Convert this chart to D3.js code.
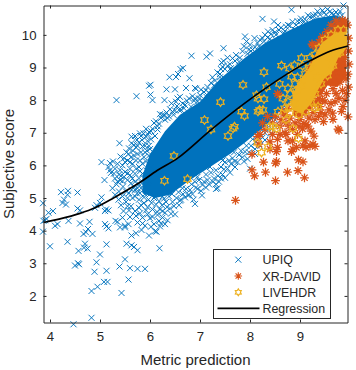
<!DOCTYPE html>
<html><head><meta charset="utf-8">
<script src="https://cdn.jsdelivr.net/npm/d3@7/dist/d3.min.js"></script>
<style>html,body{margin:0;padding:0;background:#fff}svg{display:block}text{font-family:"Liberation Sans",Arial,sans-serif;fill:#262626}</style>
</head><body><svg id="c" width="356" height="370"></svg>
<script>
const xTicks=[4,5,6,7,8,9], yTicks=[2,3,4,5,6,7,8,9,10];
const seriesNames=["UPIQ","XR-DAVID","LIVEHDR","Regression"];
// Individually read UPIQ markers
const upiq=[[5.33,8],[5.73,8.12],[5.98,8.44],[6.01,8.47],[6.01,8.17],[6.05,8],[6.29,8],[6.33,8.33],[6.39,8.7],[6.52,8.71],[6.5,8.33],[6.43,7.9],[6.2,7.57],[6.29,7.54],[6.55,8.05],[6.52,7.95],[6.45,7.65],[6.6,8.1],[6.66,8.98],[6.61,8.95],[6.56,8.8],[6.79,8.67],[6.72,8.37],[6.92,8.35],[6.9,8.37],[6.83,9.36],[7.13,9.33],[7.2,9.43],[7.47,9.59],[7.55,9.3],[7.47,9.2],[7.43,9.15],[7.22,8.53],[7.2,8.2],[7.13,8.1],[7.05,7.98],[6.95,7.95],[6.82,7.8],[6.7,7.85],[6.62,7.7],[7.3,8.4],[7.4,8.8],[7.5,8.95],[7.6,9.1],[7.65,9.28],[7.9,9.95],[7.93,9.8],[8.09,9.9],[7.88,9.65],[7.98,9.55],[8.25,10.49],[8.48,10.41],[8.56,10.3],[8.36,10.1],[8.3,10],[8.2,9.85],[8.05,9.55],[8.76,10.3],[8.83,10.77],[9.01,10.41],[9.05,10.35],[8.92,10.3],[8.68,10.05],[8.5,10.08],[9.2,10.55],[9.35,10.72],[9.45,10.75],[9.55,10.78],[9.63,10.65],[9.72,10.7],[9.87,10.9],[9.8,10.72],[9.27,10.6],
[5.92,7.12],[5.8,6.98],[5.7,6.9],[5.63,6.88],[5.63,6.68],[5.39,6.68],[5.03,6.1],[5.41,6.27],[5.57,6.35],[5.09,5.55],[5.2,6.07],[5.17,5.95],[5.2,5.85],[5.22,5.77],[5.3,5.6],[5.35,5.5],[5.28,5.75],[5.4,5.85],[5.45,6],[5.5,6.1],[5.55,6.15],[5.62,6.25],[5.66,6.45],[5.72,6.55],[5.78,6.7],[5.84,6.78],[5.9,6.6],[5.96,6.95],[5.5,5.8],[5.6,5.9],[5.65,6.05],[5.72,6.15],[5.75,6.35],[5.82,6.4],[5.88,6.25],[5.94,6.45],[5.7,5.75],[5.78,5.95],[5.85,6.05],[5.92,6.12],[5.98,6.6],[5.55,5.55],[5.62,5.45],[5.7,5.5],[5.78,5.6],[5.85,5.75],[5.93,5.85],[5.98,6.3],[5.46,5.35],[5.52,5.2],[5.63,5.25],[5.75,5.3],[5.84,5.45],[5.92,5.6],[5.98,5.7],[6.02,7.05],[6.08,7.3],[6.15,7.2],[6.22,7.45],[6.3,7.4],[6.38,7.5],[6.02,6.8],[6.1,6.9],[6,6.5],[6.03,6.2],[6.02,5.95],[6.06,5.75],[6,5.5],[5.9,5.35],[5.8,5.15],[5.7,5.05],[5.55,5],[5.38,5.2],[5.33,5.42],[5.45,5.05],
[5,4.85],[4.93,4.78],[5.03,5.02],[4.9,4.7],[5.12,4.65],[5.17,4.62],[5.1,4.6],[5.31,4.3],[5.35,4.27],[5.1,4.2],[5.17,4.07],[5.13,4.13],[5.47,4.6],[5.45,4.4],[5.4,4.1],[5.5,4.1],[5.57,4.2],[5.5,4.15],[5.63,3.85],[5.72,3.92],[5.83,4.02],[5.98,3.85],[6.13,3.97],[6.2,4.13],[5.62,4.75],[5.72,4.45],[5.8,4.53],[5.85,4.4],[5.95,4.5],[5.75,4.25],[5.9,4.15],[5.7,4.6],[6,4.38],[6.08,4.2],[6.18,4.3],[6.25,4.4],[5.65,5],[5.78,4.95],[5.88,4.85],[5.95,4.72],[6.05,4.65],[6.12,4.8],[6.2,4.65],[6.3,4.55],[6.4,4.68],[6.5,4.5],[6.32,4.88],[6.45,4.88],[6.1,5.05],[6.02,5.15],[6.58,4.78],[6.7,5.02],[6.87,4.95],[6.65,5.3],[6.8,5.25],[7.32,5.28],[7.35,5.3],[7.05,5.4],[7.28,5.6],[7.38,5.5],[7.45,5.72],[7.15,5.55],[6.9,5.5],[7.55,5.9],[7.62,6.05],[7.75,6.1],[7.85,6.25],[7.68,6.4],[7.98,6.4],[8.1,6.5],[8.2,6.6],[8.05,6.8],[8.18,7],[8.3,7],[8.4,7.3],[8.5,7.4],[8.62,7.6],[7.95,6.2],[7.7,5.95],[8,5.9],[7.45,6.15],[7.2,5.95],[6.95,5.65],[6.68,5.55],[6.55,5.4],[6.35,5.2],[6.25,5.05],
[4.36,5.22],[4.35,5.1],[4.22,5.18],[4.28,4.95],[4.25,4.85],[4.32,4.8],[4.55,5.17],[4.55,4.68],[4.6,4.62],[4.06,4.6],[3.97,4.55],[4.1,4.15],[4.15,4.2],[4.37,4.3],[4.6,4.22],[3.86,4.84],[3.86,3.97],[3.9,4.32],[3.93,4.36],[3.87,4.3],[4,3.52],[4.35,3.66],[4.57,3.38],[4.67,3.9],[4.7,3.6],[4.75,3.45],[4.68,3.48],[4.79,4.27],[4.76,4.05],[4.72,3.95],[4.85,3.9],[5,3.27],[4.93,3.03],[4.89,2.74],[5.13,2.77],[5.13,3.58],[4.5,2.93],[4.58,2.97],[4.56,3],[4.83,2.15],[4.95,2.28],[5.08,2.43],[5.15,2.43],[4.83,1.33],[4.47,1.13],[5.43,2.09],[5.57,2.5],[5.39,2.9],[5.5,3.12],[5.6,2.85],[5.75,2.83],[5.9,2.83],[5.53,3.6],[5.63,3.55],[5.68,3.5],[5.75,3.4],[6.19,3.46]];
// More UPIQ markers read across the dense band
const upiqBand=[[5.37,4.95],[5.42,4.78],[5.52,4.88],[5.58,4.62],[5.3,5.1],[5.25,5.3],[5.4,5.55],[5.48,5.65],[5.6,5.7],[5.68,5.33],[5.74,5.14],[5.82,5.3],[5.88,5.02],[5.93,5.22],[5.97,4.95],[6.03,4.85],[6.08,5],[6.14,4.58],[6.18,4.9],[6.24,4.78],[6.28,4.98],[6.34,4.72],[6.38,5.05],[6.44,5.12],[6.48,4.75],[6.53,5],[6.57,5.18],[6.62,4.95],[6.66,5.12],[6.72,5.28],[6.76,5.08],[6.83,5.42],[6.85,5.12],[6.92,5.32],[6.98,5.55],[7.02,5.22],[7.08,5.5],[7.12,5.72],[7.18,5.42],[7.22,5.78],[7.26,5.5],[7.32,5.85],[7.36,5.68],[7.42,5.95],[7.48,5.88],[7.5,6.1],[7.58,6.15],[7.65,6.22],[7.7,6.12],[7.78,6.32],[7.82,6.45],[7.9,6.42],[7.93,6.6],[8.02,6.6],[8.12,6.72],[8.15,6.9],[8.25,6.85],[8.35,7.15],[8.44,7.12],[8.55,7.5],[8.68,7.72],[8.75,7.9],
[5.3,5.9],[5.35,6.05],[5.26,6.12],[5.42,5.68],[5.48,6.22],[5.53,6.4],[5.58,6.52],[5.68,6.62],[5.74,6.78],[5.82,6.9],[5.87,6.98],[5.98,7.02],[6.05,7.12],[6.12,7.35],[6.18,7.28],[6.25,7.55],[6.33,7.62],[6.4,7.72],[6.47,7.55],[6.54,7.82],[6.58,7.7],[6.65,7.9],[6.74,7.98],[6.78,8.05],[6.85,8.12],[6.9,8.05],[7,8.15],[7.02,8.32],[7.08,8.25],[7.15,8.4],[7.25,8.7],[7.28,8.45],[7.35,8.85],[7.42,8.95],[7.45,9.02],[7.55,9.05],[7.62,8.98],[7.7,9.2],[7.72,9.38],[7.8,9.3],[7.85,9.5],[8,9.7],[8.1,9.62],[8.15,9.75],[8.25,9.9],[8.35,9.92],[8.42,10.02],[8.45,10.15],[8.58,10.15],[8.62,10.22],[8.72,10.25],[8.8,10.28],[8.85,10.4],[8.95,10.42],[9.02,10.5],[9.1,10.48],[9.16,10.6],[9.25,10.55],[9.32,10.62],[9.4,10.62],[9.48,10.68],[9.52,10.62],[9.6,10.72],[9.68,10.62],[9.76,10.62],[9.84,10.6],
[5.38,5.72],[5.45,5.52],[5.55,5.75],[5.65,5.6],[5.72,5.9],[5.8,5.82],[5.88,5.6],[5.95,5.45],[5.6,6.1],[5.68,6.3],[5.8,6.15],[5.9,6.4],[5.85,6.58],[5.95,6.75],[5.92,6.88],[5.75,6.6],[5.58,5.15],[5.78,5.42],[5.9,5.12],[5.96,5.3],[5.7,5.25],[5.82,4.78],[5.92,4.62],[6.05,4.42],[6.15,4.48],[6.25,4.6],[6.35,4.32],[6.42,4.52],[5.78,4.7],[5.6,4.42],[5.55,4.75],[5.85,4.22],[6.02,4.12],[6.1,3.98],[6.22,4.22],[6.3,4.2],
[9.1,10.35],[8.9,10.15],[8.7,10.12],[8.52,10],[8.4,9.88],[8.28,9.8],[8.18,9.65],[8.02,9.5],[7.78,9.18],[7.95,9.42],[7.6,8.95],[7.4,8.7],[7.3,8.6],[7.12,8.3],[6.98,8.05],[6.88,7.98],[6.68,7.75],[6.5,7.68],[6.35,7.45],[6.15,7.1],[8.3,6.78],[8.42,6.98],[8.5,7.2],[8.1,6.35],[7.88,6.12],[7.6,5.78],[7.5,5.62],[7.12,5.32],[6.95,5.28],[6.78,5.1],[6.6,4.92],[6.9,4.82],[7.04,5.08],[7.32,5.42],[7.42,5.6]];
// Outline of the saturated UPIQ core (x, y)
const upiqCore=[[5.85,5.7],[6,6.35],[6.3,7.05],[6.6,7.55],[7,7.95],[7.4,8.65],[7.9,9.3],[8.3,9.75],[8.8,10.15],[9.3,10.5],[9.7,10.6],[9.9,10.5],[9.9,9],[8.65,7.75],[8.3,7.2],[7.9,6.7],[7.6,6.35],[7.2,5.95],[6.8,5.55],[6.4,5.1],[6.1,5],[5.85,5.15]];
// Individually read XR-DAVID markers
const xrdavid=[[7.71,4.93],[8.51,5.53],[9.09,5.62],[8.75,5.79],[8.96,5.84],[8.31,5.79],[8.09,5.68],[8.04,5.86],[8.27,6.1],[8.51,6.07],[8.53,6.12],[8.97,6.17],[9.06,6.11],[8.04,6.34],[8.83,6.42],[8.86,6.5],[8.53,6.42],[8.55,6.55],[9.76,7.11],[9.78,7.07],[9.66,7.41],[9.47,7.34],[9.96,7.49],[9.83,7.65],[9.86,7.8],[9.7,7.95],[9.53,8.2],[9.24,9.72],[9.26,9.68],[9.26,6.65],[9.3,6.58],[9.2,6.6],[9.06,6.6],[9.12,6.55],[9.28,6.9],[9.22,7.05],[9.12,7.25],[9.08,7.28],[9,7.4],[9.16,7.2],[9.05,7.12],[8.76,6.75],[8.72,6.95],[8.7,7],[8.6,6.95],[8.45,6.95],[8.4,6.72],[8.2,6.95],[8.15,6.88],[8.18,6.65],[8.4,6.5],[8.45,7.3],[8.5,7.5],[8.35,7.5],[8.6,7.2],[8.85,7.1],[8.95,6.95],[8.85,6.75],[9.37,7.5],[9.42,7.62],[9.58,7.7],[9.62,7.9],[8.55,8.2],[8.58,8.15],[8.25,7.3],[8.3,7.1],[8.55,6.8],[8.93,6.55],[9.1,6.75],[9.35,7.9],[9.3,8],[9.25,7.85],[9.45,8],[9.5,7.55],[9.65,7.6],[9.9,8],[9.93,8.2],[9.78,8.05],[9.97,8.4],[9.96,8.8],[9.98,9.1],[9.97,9.5],[9.97,9.9],[9.95,10.3],[9.85,10.45],[9.72,10.43],[9.62,10.3],[9.54,10.1],[9.45,9.95],[9.38,9.78],[9.14,8.1],[8.98,8.1],[8.88,7.95],[8.76,7.75],[8.65,7.65],[8.7,7.55],[8.95,7.6],[9.4,8.2],[9.66,8.35],[9.6,8.6],
[8.9,7.3],[8.98,7.2],[8.8,7.45],[8.72,7.3],[9.18,7.45],[9.3,7.4],[9.26,7.62],[9.4,7.8],[9.5,7.95],[9.72,8.2],[9.85,8.3],[9.8,8.55],[9.92,8.65],[9.9,9.3],[9.92,9.7],[9.86,9.05],[9.78,8.85],[9.68,8.6],[9.38,8.05],[9.52,9.9],[9.6,10.05],[9.7,10.25],[9.8,10.35],[9.9,10.42],[9.42,9.85],[9.32,9.65],[9.1,7.6],[9,7.55],[8.78,7.2],[8.62,7.4]];
const xrdavidCore=[[9.4,9.65],[9.6,10.1],[9.75,10.35],[9.92,10.35],[9.92,8.7],[9.75,8.4],[9.55,8.45],[9.45,8.2],[9.28,8.1],[9.25,7.75],[9.05,7.6],[8.88,7.5],[8.85,7.85],[9,8.5],[9.15,9]];
// Individually read LIVEHDR markers
const livehdr=[[6.48,6.29],[6.29,5.53],[6.75,5.58],[7.09,7.39],[7.22,7.1],[7.41,7.94],[7.86,8.47],[8.28,8.86],[8.63,9.06],[8.79,8.97],[8.89,9.07],[9.03,9.29],[7.56,6.9],[7.69,7.19],[7.66,7.13],[7.83,7.65],[7.89,7.52],[8.16,8.05],[8.13,8.15],[8.28,8.03],[8.19,7.7],[8.26,7.7],[8.16,7.65],[8.33,8.4],[8.59,8.5],[8.76,8.36],[8.83,8.72],[8.66,8.05],[8.69,7.75],[8.56,7.65],[8.46,7.19],[8.39,7.19],[8.53,7.13],[8.36,6.57],[8.23,6.39],[8.15,6.69],[8.86,7.13],[8.97,6.83],[9.36,7.8],[9.3,7.75],[8.72,7.4],[8.88,7.9],[8.9,8.5],[9.05,9.05],[9.2,9.3],[8.95,8.7],[8.8,8.2],
[8.78,7.78],[8.76,7.95],[8.92,8.3],[9.02,8.45],[9.1,8.8],[9.2,9],[9.3,9.4],[9.38,9.6],[9.5,9.85],[9.62,10],[9.76,10.15],[9.87,10.15],[9.8,9.45],[9.66,9.05],[9.55,8.75],[9.42,8.5],[9.3,8.2],[9.22,7.95],[9.12,7.65],[8.98,7.55],[8.8,7.6],[9.35,8.7],[9.6,9.3]];
const livehdrCore=[[8.83,7.85],[8.86,8.21],[8.99,8.62],[9.16,8.92],[9.29,9.33],[9.43,9.74],[9.69,10.05],[9.93,10.1],[9.95,9.64],[9.76,9.28],[9.63,8.82],[9.49,8.67],[9.36,8.31],[9.23,7.9],[9.03,7.59],[8.86,7.7]];
// Regression curve, read at points along the line
const regression=[[3.87,4.25],[4.2,4.36],[4.6,4.53],[4.9,4.7],[5.27,5],[5.77,5.45],[6.15,5.85],[6.56,6.23],[7.22,7.09],[7.89,7.9],[8.56,8.62],[8.9,8.95],[9.23,9.23],[9.6,9.5],[9.96,9.66]];

const svg=d3.select("#c");
const L=43.5,R=347.5,T=5.5,B=322.5;
const x=d3.scaleLinear().domain([3.87,9.95]).range([L,R]);
const y=d3.scaleLinear().domain([1.185,10.9]).range([B,T]);
const BLUE="#0072BD",ORANGE="#D95319",GOLD="#EDB120";
const poly=d3.line().x(d=>x(d[0])).y(d=>y(d[1])).curve(d3.curveLinearClosed);
const crossPath=r=>`M${-r},${-r}L${r},${r}M${-r},${r}L${r},${-r}`;
const starPath=r=>{const a=r*.71;return `M0,${-r}L0,${r}M${-r},0L${r},0M${-a},${-a}L${a},${a}M${-a},${a}L${a},${-a}`};
const hexPath=r=>{let p="";for(let i=0;i<12;i++){const q=i%2?r*.62:r,t=-Math.PI/2+i*Math.PI/6;p+=(i?"L":"M")+(q*Math.cos(t)).toFixed(2)+","+(q*Math.sin(t)).toFixed(2)}return p+"Z"};
function marks(data,path,color,w){
  svg.append("g").selectAll("path").data(data).join("path")
   .attr("transform",d=>`translate(${x(d[0])},${y(d[1])})`)
   .attr("d",path).attr("fill","none").attr("stroke",color).attr("stroke-width",w);
}
svg.append("path").attr("d",poly(upiqCore)).attr("fill",BLUE);
marks(upiq.concat(upiqBand),crossPath(3),BLUE,.95);
svg.append("path").attr("d",poly(xrdavidCore)).attr("fill",ORANGE);
marks(xrdavid,starPath(4.4),ORANGE,1.25);
svg.append("path").attr("d",poly(livehdrCore)).attr("fill",GOLD);
marks(livehdr,hexPath(4.2),GOLD,1.25);
svg.append("path").datum(regression).attr("fill","none").attr("stroke","#000").attr("stroke-width",1.7)
 .attr("d",d3.line().x(d=>x(d[0])).y(d=>y(d[1])).curve(d3.curveCatmullRom));

function axis(gen,tx,ty){
  const g=svg.append("g").attr("transform",`translate(${tx},${ty})`).call(gen);
  g.select(".domain").attr("stroke","#262626");
  g.selectAll("line").attr("stroke","#262626");
  g.selectAll("text").attr("font-size",13.2).attr("fill","#262626").style("font-family",'"Liberation Sans",Arial,sans-serif');
  return g;
}
const fmt=d3.format("d");
axis(d3.axisBottom(x).tickValues(xTicks).tickFormat(fmt).tickSizeInner(-3).tickSizeOuter(0).tickPadding(9),0,B);
axis(d3.axisLeft(y).tickValues(yTicks).tickFormat(fmt).tickSizeInner(-3).tickSizeOuter(0).tickPadding(7),L,0);
axis(d3.axisTop(x).tickValues(xTicks).tickSizeInner(-3).tickSizeOuter(0).tickFormat(""),0,T);
axis(d3.axisRight(y).tickValues(yTicks).tickSizeInner(-3).tickSizeOuter(0).tickFormat(""),R,0);
svg.append("text").attr("x",195.5).attr("y",365).attr("text-anchor","middle").attr("font-size",15).text("Metric prediction");
svg.append("text").attr("transform","translate(13.5,164) rotate(-90)").attr("text-anchor","middle").attr("font-size",15).text("Subjective score");

// Legend
const lg=svg.append("g");
lg.append("rect").attr("x",213.5).attr("y",249.5).attr("width",117).attr("height",69).attr("fill","#fff").attr("stroke","#262626").attr("stroke-width",1);
const ly=[259.7,276,292.3,308.3];
const legendMarks=[[crossPath(3),BLUE,.95],[starPath(3.8),ORANGE,1.1],[hexPath(3.4),GOLD,1.2]];
legendMarks.forEach((m,i)=>lg.append("path").attr("transform",`translate(238.3,${ly[i]})`).attr("d",m[0]).attr("fill","none").attr("stroke",m[1]).attr("stroke-width",m[2]));
lg.append("line").attr("x1",217.5).attr("x2",259.5).attr("y1",ly[3]).attr("y2",ly[3]).attr("stroke","#000").attr("stroke-width",1.7);
seriesNames.forEach((s,i)=>lg.append("text").attr("x",262.5).attr("y",ly[i]+4.5).attr("font-size",12.4).attr("textLength",i==3?62.6:null).text(s));
</script></body></html>
